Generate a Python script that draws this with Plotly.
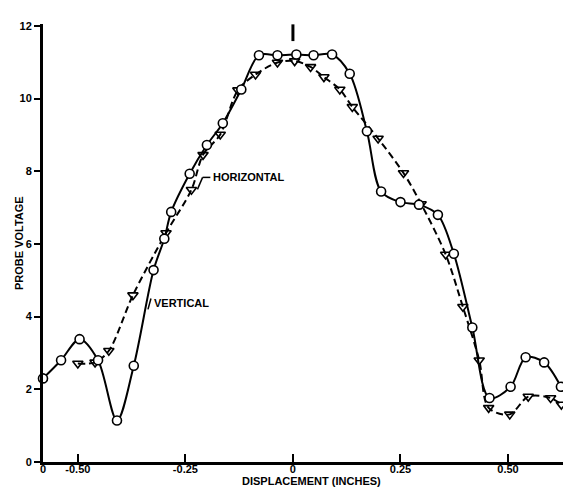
import plotly.graph_objects as go

# Horizontal probe (solid line, open circles)
horiz_x = [-0.581, -0.539, -0.496, -0.453, -0.409, -0.370, -0.324, -0.299, -0.283,
           -0.240, -0.200, -0.163, -0.120, -0.079, -0.036, 0.008, 0.048, 0.091,
           0.132, 0.172, 0.205, 0.250, 0.293, 0.337, 0.374, 0.417, 0.457, 0.506,
           0.541, 0.584, 0.623]
horiz_y = [2.30, 2.80, 3.38, 2.80, 1.14, 2.65, 5.28, 6.14, 6.88,
           7.93, 8.72, 9.32, 10.25, 11.19, 11.19, 11.21, 11.19, 11.21,
           10.68, 9.10, 7.44, 7.15, 7.08, 6.80, 5.73, 3.70, 1.76, 2.07,
           2.88, 2.74, 2.07]

# Vertical probe (dashed line, open triangles)
vert_x = [-0.500, -0.460, -0.428, -0.372, -0.295, -0.236, -0.209, -0.169, -0.128,
          -0.087, -0.036, 0.004, 0.041, 0.072, 0.109, 0.138, 0.198, 0.257,
          0.298, 0.355, 0.395, 0.433, 0.455, 0.504, 0.547, 0.599, 0.624]
vert_y = [2.71, 2.74, 3.06, 4.59, 6.30, 7.49, 8.45, 9.01, 10.23,
          10.66, 10.99, 11.03, 10.87, 10.59, 10.25, 9.77, 8.90, 7.95,
          7.10, 5.71, 4.27, 2.80, 1.49, 1.31, 1.80, 1.76, 1.58]

x_tickvals = [-0.581, -0.50, -0.25, 0, 0.25, 0.50]
x_ticktext = ["0", "-0.50", "-0.25", "0", "0.25", "0.50"]
y_tickvals = [0, 2, 4, 6, 8, 10, 12]

FONT = "Liberation Sans"

fig = go.Figure()
fig.add_trace(go.Scatter(
    x=vert_x, y=vert_y, mode="lines+markers",
    line=dict(color="black", width=2, dash="7px,4px", shape="spline", smoothing=0.9),
    marker=dict(symbol="triangle-down-open", size=9, color="black", line=dict(width=1.6)),
    showlegend=False, cliponaxis=False))
fig.add_trace(go.Scatter(
    x=horiz_x, y=horiz_y, mode="lines+markers",
    line=dict(color="black", width=2, shape="spline", smoothing=0.9),
    marker=dict(symbol="circle", size=9, color="white", line=dict(width=1.6, color="black")),
    showlegend=False, cliponaxis=False))

# peak marker at x = 0
fig.add_shape(type="line", xref="x", yref="y", x0=0, x1=0, y0=11.58, y1=12.04,
              line=dict(color="black", width=3))
# leader lines for labels
fig.add_shape(type="line", xref="x", yref="y", x0=-0.192, x1=-0.210, y0=7.83, y1=7.83,
              line=dict(color="black", width=1.5))
fig.add_shape(type="line", xref="x", yref="y", x0=-0.210, x1=-0.222, y0=7.83, y1=7.50,
              line=dict(color="black", width=1.5))
fig.add_shape(type="line", xref="x", yref="y", x0=-0.330, x1=-0.337, y0=4.50, y1=4.20,
              line=dict(color="black", width=1.5))

fig.add_annotation(x=-0.190, y=7.83, text="<b>HORIZONTAL</b>", showarrow=False,
                   xanchor="left", yanchor="middle",
                   font=dict(family=FONT, size=11, color="black"))
fig.add_annotation(x=-0.327, y=4.37, text="<b>VERTICAL</b>", showarrow=False,
                   xanchor="left", yanchor="middle",
                   font=dict(family=FONT, size=11, color="black"))

# axis titles
fig.add_annotation(xref="paper", yref="paper", x=0.5, y=0, yshift=-19,
                   text="<b>DISPLACEMENT (INCHES)</b>", showarrow=False,
                   xanchor="center", yanchor="middle",
                   font=dict(family=FONT, size=11, color="black"))
fig.add_annotation(xref="paper", yref="paper", x=0, y=0.5, xshift=-24,
                   text="<b>PROBE VOLTAGE</b>", showarrow=False, textangle=-90,
                   xanchor="center", yanchor="middle",
                   font=dict(family=FONT, size=11, color="black"))

fig.update_layout(
    width=571, height=490,
    margin=dict(l=35, r=0, t=16, b=36),
    paper_bgcolor="white", plot_bgcolor="white",
    font=dict(family=FONT, size=11, color="black"),
)
fig.update_xaxes(
    range=[-0.581, 0.665], showgrid=False, zeroline=False,
    showline=True, linecolor="black", linewidth=3,
    tickmode="array", tickvals=x_tickvals, ticktext=x_ticktext,
    ticks="inside", ticklen=8, tickwidth=2, tickcolor="black",
    ticklabelstandoff=-5,
    tickfont=dict(family=FONT, size=11, color="black", weight="bold"),
)
fig.update_yaxes(
    range=[0, 12.05], showgrid=False, zeroline=False,
    showline=True, linecolor="black", linewidth=3,
    tickmode="array", tickvals=y_tickvals,
    ticks="outside", ticklen=6, tickwidth=2, tickcolor="black",
    tickfont=dict(family=FONT, size=11, color="black", weight="bold"),
)

fig.write_html("out.html")
